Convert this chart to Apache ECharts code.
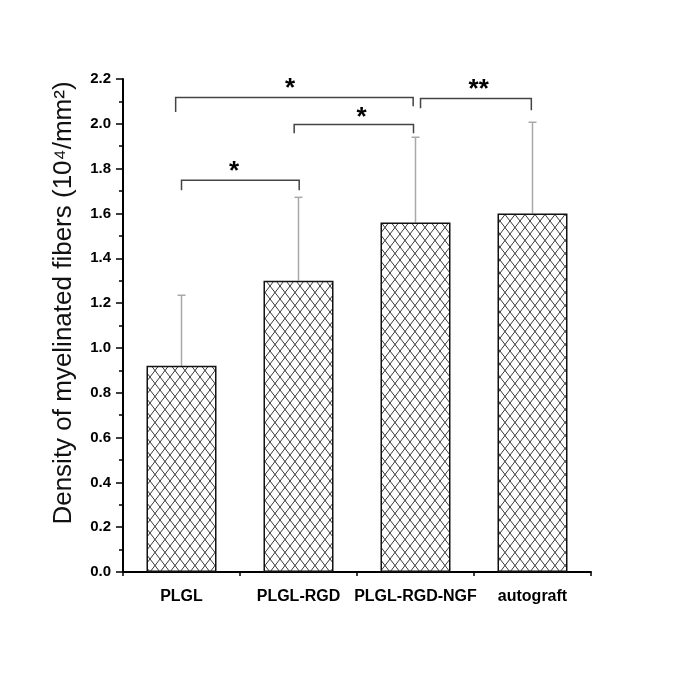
<!DOCTYPE html>
<html><head><meta charset="utf-8">
<script src="https://cdn.jsdelivr.net/npm/echarts@6/dist/echarts.min.js"></script>
<style>html,body{margin:0;padding:0;background:#fff}#c{width:685px;height:685px}</style>
</head><body><div id="c"></div>
<script>
const categories = ['PLGL', 'PLGL-RGD', 'PLGL-RGD-NGF', 'autograft'];
const means = [0.92, 1.30, 1.56, 1.60];
const errTops = [1.235, 1.672, 1.94, 2.007];
const yTitle = 'Density of myelinated fibers (10\u2074/mm\u00B2)';
// brackets: [xLeft, xRight, yLine, yLeftEnd, yRightEnd] (x in category-band units 0..4)
const brackets = [
  [0.45, 2.48, 2.117, 2.053, 2.078],
  [2.543, 3.49, 2.113, 2.070, 2.060],
  [1.463, 2.483, 1.997, 1.958, 1.958],
  [0.50, 1.506, 1.748, 1.704, 1.704]
];
const starX = [1.428, 3.04, 2.04, 0.95];
const starY = [2.177, 2.172, 2.047, 1.806];
const starText = ['*', '**', '*', '*'];

// hatch pattern
const pc = document.createElement('canvas');
pc.width = 10; pc.height = 13;
const g = pc.getContext('2d');
g.fillStyle = '#fff'; g.fillRect(0, 0, 10, 13);
g.strokeStyle = '#222'; g.lineWidth = 0.9;
for (let k = -1; k <= 1; k++) {
  g.beginPath(); g.moveTo(k * 10, 0); g.lineTo(k * 10 + 10, 13); g.stroke();
  g.beginPath(); g.moveTo(k * 10 + 10, 0); g.lineTo(k * 10, 13); g.stroke();
}

const sans = '"Liberation Sans", Arial, sans-serif';
const chart = echarts.init(document.getElementById('c'), null, {renderer: 'canvas'});
chart.setOption({
  animation: false,
  backgroundColor: '#fff',
  grid: {left: 123, right: 94, top: 79, bottom: 113, containLabel: false},
  xAxis: [{
    type: 'category', data: categories, position: 'bottom',
    axisLine: {lineStyle: {color: '#000', width: 2}},
    axisTick: {alignWithLabel: true, length: 10, lineStyle: {color: '#000', width: 1.5}},
    axisLabel: {interval: 0, color: '#000', fontFamily: sans, fontWeight: 'bold', fontSize: 16, margin: 17},
    splitLine: {show: false}
  }, {
    type: 'value', min: 0, max: 4, interval: 1, position: 'bottom',
    axisLine: {show: false},
    axisTick: {show: true, length: 4, lineStyle: {color: '#000', width: 1.5}},
    axisLabel: {show: false}, splitLine: {show: false}
  }],
  yAxis: {
    type: 'value', min: 0, max: 2.2, interval: 0.2,
    axisLine: {show: true, lineStyle: {color: '#000', width: 2}},
    axisTick: {show: true, length: 7, lineStyle: {color: '#000', width: 1.5}},
    minorTick: {show: true, splitNumber: 2, length: 4, lineStyle: {color: '#000', width: 1.5}},
    axisLabel: {color: '#000', fontFamily: sans, fontWeight: 'bold', fontSize: 15, margin: 12,
      formatter: v => v.toFixed(1)},
    splitLine: {show: false}
  },
  graphic: [{
    type: 'text', x: 64, y: 303, rotation: Math.PI / 2,
    style: {text: yTitle, fontFamily: sans, fontSize: 26,
      fill: '#111', align: 'center', verticalAlign: 'middle'}
  }],
  series: [{
    type: 'bar', xAxisIndex: 0, data: means, barWidth: 70,
    itemStyle: {color: {image: pc, repeat: 'repeat'}, borderColor: '#111', borderWidth: 1.5}
  }, {
    type: 'custom', xAxisIndex: 0,
    data: categories.map((c, i) => [i, means[i], errTops[i]]),
    encode: {x: 0, y: [1, 2]},
    renderItem: (params, api) => {
      const b = api.coord([api.value(0), api.value(1)]);
      const t = api.coord([api.value(0), api.value(2)]);
      const st = {stroke: '#a8a8a8', lineWidth: 1.5};
      return {type: 'group', children: [
        {type: 'line', shape: {x1: b[0], y1: b[1], x2: t[0], y2: t[1]}, style: st},
        {type: 'line', shape: {x1: t[0] - 4, y1: t[1], x2: t[0] + 4, y2: t[1]}, style: st}
      ]};
    }
  }, {
    type: 'custom', xAxisIndex: 1,
    data: brackets,
    encode: {x: [0, 1], y: [2, 3, 4]},
    renderItem: (params, api) => {
      const p1 = api.coord([api.value(0), api.value(3)]);
      const p2 = api.coord([api.value(0), api.value(2)]);
      const p3 = api.coord([api.value(1), api.value(2)]);
      const p4 = api.coord([api.value(1), api.value(4)]);
      return {type: 'polyline', shape: {points: [p1, p2, p3, p4]},
        style: {stroke: '#444', lineWidth: 1.5, fill: null}};
    }
  }, {
    type: 'custom', xAxisIndex: 1,
    data: starX.map((x, i) => [x, starY[i]]),
    encode: {x: 0, y: 1},
    renderItem: (params, api) => {
      const p = api.coord([api.value(0), api.value(1)]);
      return {type: 'text', x: p[0], y: p[1] + 5,
        style: {text: starText[params.dataIndex], fontFamily: sans,
          fontWeight: 'bold', fontSize: 26, fill: '#000', align: 'center', verticalAlign: 'middle'}};
    }
  }]
});
</script></body></html>
